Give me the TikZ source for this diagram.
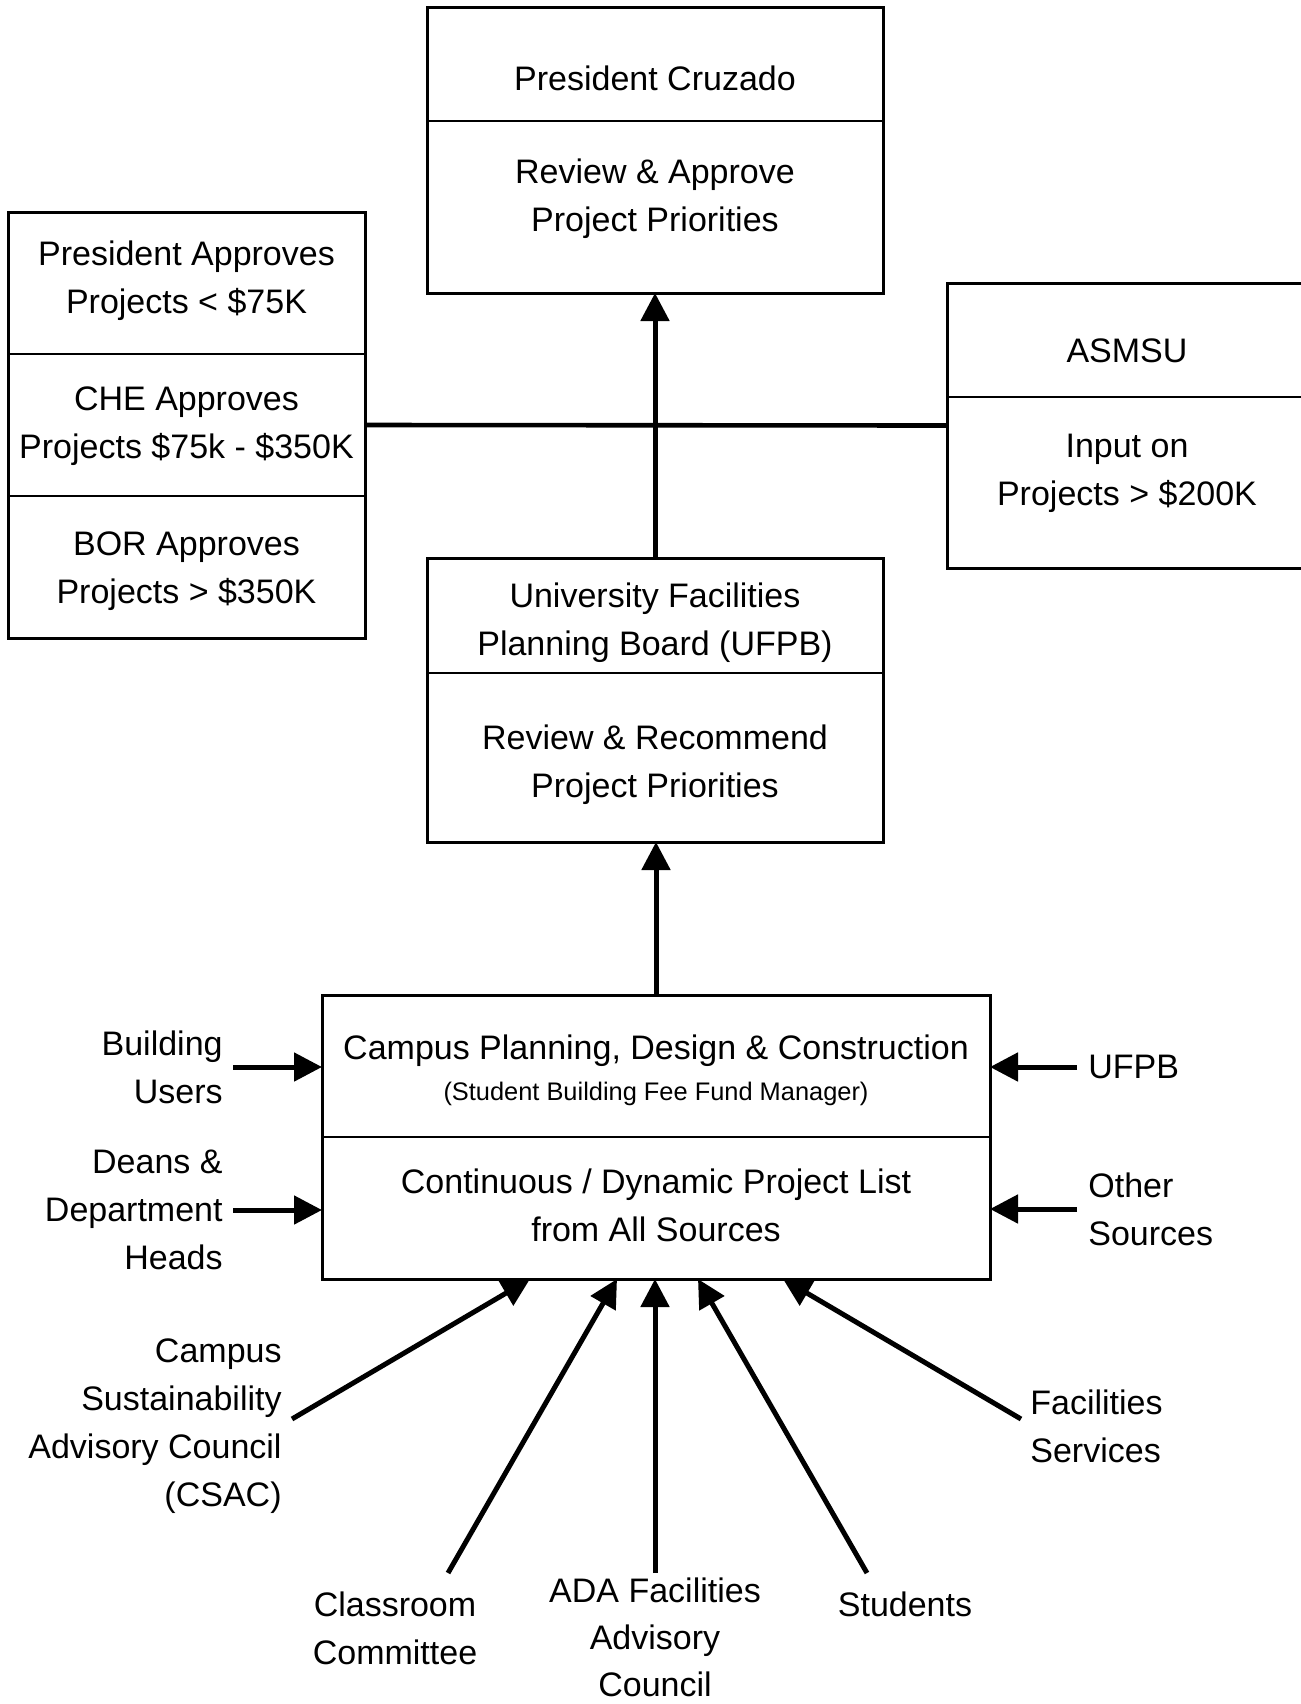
\documentclass[tikz,border=0pt]{standalone}
\usepackage{fontspec}
\setmainfont{Liberation Sans}
\usetikzlibrary{arrows.meta,positioning}

\begin{document}
\begin{tikzpicture}[x=0.5pt,y=-0.5pt,
		main box/.style={draw,line width=1.5pt,inner sep=0pt,outer sep=0pt},
		main text/.style={align=center,inner sep=0pt,
			font=\fontsize{17}{24}\selectfont},
		side text/.style={main text,align=right},
		flow/.style={-{Triangle[length=14pt,width=14pt]},line width=2.5pt}]
	\useasboundingbox (0,0) rectangle (1301,1704);
	
	% boxes
	\node[main box,minimum width=228pt,minimum height=143pt] (pres) at (655,150) {};
	\node[main box,minimum width=178.5pt,minimum height=213pt] (lbox) at (186.5,425) {};
	\node[main box,minimum width=180.5pt,minimum height=142.5pt] (rbox) at (1127.5,425.5) {};
	\node[main box,minimum width=228pt,minimum height=142pt] (ufpb) at (655,700) {};
	\node[main box,minimum width=334pt,minimum height=142pt] (cpdc) at (656,1137) {};
	
	% dividers
	\draw[line width=1.3pt] (pres.west |- 0,121) -- (pres.east |- 0,121);
	\draw[line width=1.3pt] (lbox.west |- 0,354) -- (lbox.east |- 0,354);
	\draw[line width=1.3pt] (lbox.west |- 0,496) -- (lbox.east |- 0,496);
	\draw[line width=1.3pt] (rbox.west |- 0,397) -- (rbox.east |- 0,397);
	\draw[line width=1.3pt] (ufpb.west |- 0,673) -- (ufpb.east |- 0,673);
	\draw[line width=1.3pt] (cpdc.west) -- (cpdc.east);
	
	% box texts
	\node[main text] (prestitle) at (655,78) {President Cruzado};
	\node[main text] (prestask) at (655,199) {Review \& Approve\\Project Priorities};
	\node[main text] (presok) at (186.5,281) {President Approves\\Projects < \$75K};
	\node[main text] (cheok) at (186.5,426) {CHE Approves\\Projects \$75k - \$350K};
	\node[main text] (borok) at (186.5,571) {BOR Approves\\Projects > \$350K};
	\node[main text] (asmsu) at (1127,351) {ASMSU};
	\node[main text] (asmsutask) at (1127,473) {Input on\\Projects > \$200K};
	\node[main text] (ufpbtitle) at (655,623) {University Facilities\\Planning Board (UFPB)};
	\node[main text] (ufpbtask) at (655,765) {Review \& Recommend\\Project Priorities};
	\node[main text] (cpdctitle) at (656,1051) {Campus Planning, Design \& Construction};
	\node[main text,font=\fontsize{12.7}{15}\selectfont] (cpdcsub) at (656,1094)
		{(Student Building Fee Fund Manager)};
	\node[main text] (cpdclist) at (656,1205) {Continuous / Dynamic Project List\\from All Sources};
	
	% sources
	\node[side text,anchor=east] (bldg) at (223,1067) {Building\\Users};
	\node[side text,anchor=east] (deans) at (223,1210) {Deans \&\\Department\\Heads};
	\node[main text,align=left,anchor=west] (ufpbsrc) at (1088,1067) {UFPB};
	\node[main text,align=left,anchor=west] (other) at (1088,1209) {Other\\Sources};
	\node[side text,anchor=east] (csac) at (282,1426)
		{Campus\\Sustainability\\Advisory Council\\(CSAC)};
	\node[main text] (classroom) at (395,1628) {Classroom\\Committee};
	\node[main text,font=\fontsize{17}{23.5}\selectfont] (ada) at (655,1637)
		{ADA Facilities\\Advisory\\Council};
	\node[main text] (students) at (905,1604) {Students};
	\node[main text,align=left,anchor=west] (facsvc) at (1030,1426) {Facilities\\Services};
	
	\coordinate (csacpt) at (292,1419);
	\coordinate (classpt) at (448,1573);
	\coordinate (adapt) at (655,1573);
	\coordinate (studpt) at (867,1573);
	\coordinate (facpt) at (1021,1419);
	
	% connectors
	\draw[line width=2.3pt] (lbox.east) -- (rbox.west);
	\draw[flow] (ufpb.north) -- (pres.south);
	\draw[flow] (cpdc.north) -- (cpdc.north |- ufpb.south);
	\draw[flow] ([xshift=5pt]bldg.east) -- (bldg.east -| cpdc.west);
	\draw[flow] ([xshift=5pt]deans.east) -- (deans.east -| cpdc.west);
	\draw[flow] ([xshift=-5.5pt]ufpbsrc.west) -- (ufpbsrc.west -| cpdc.east);
	\draw[flow] ([xshift=-5.5pt]other.west) -- (other.west -| cpdc.east);
	\draw[flow] (csacpt) -- ([xshift=104pt]cpdc.south west);
	\draw[flow] (classpt) -- ([xshift=147.5pt]cpdc.south west);
	\draw[flow] (adapt) -- (adapt |- cpdc.south);
	\draw[flow] (studpt) -- ([xshift=188pt]cpdc.south west);
	\draw[flow] (facpt) -- ([xshift=230.5pt]cpdc.south west);
\end{tikzpicture}
\end{document}
